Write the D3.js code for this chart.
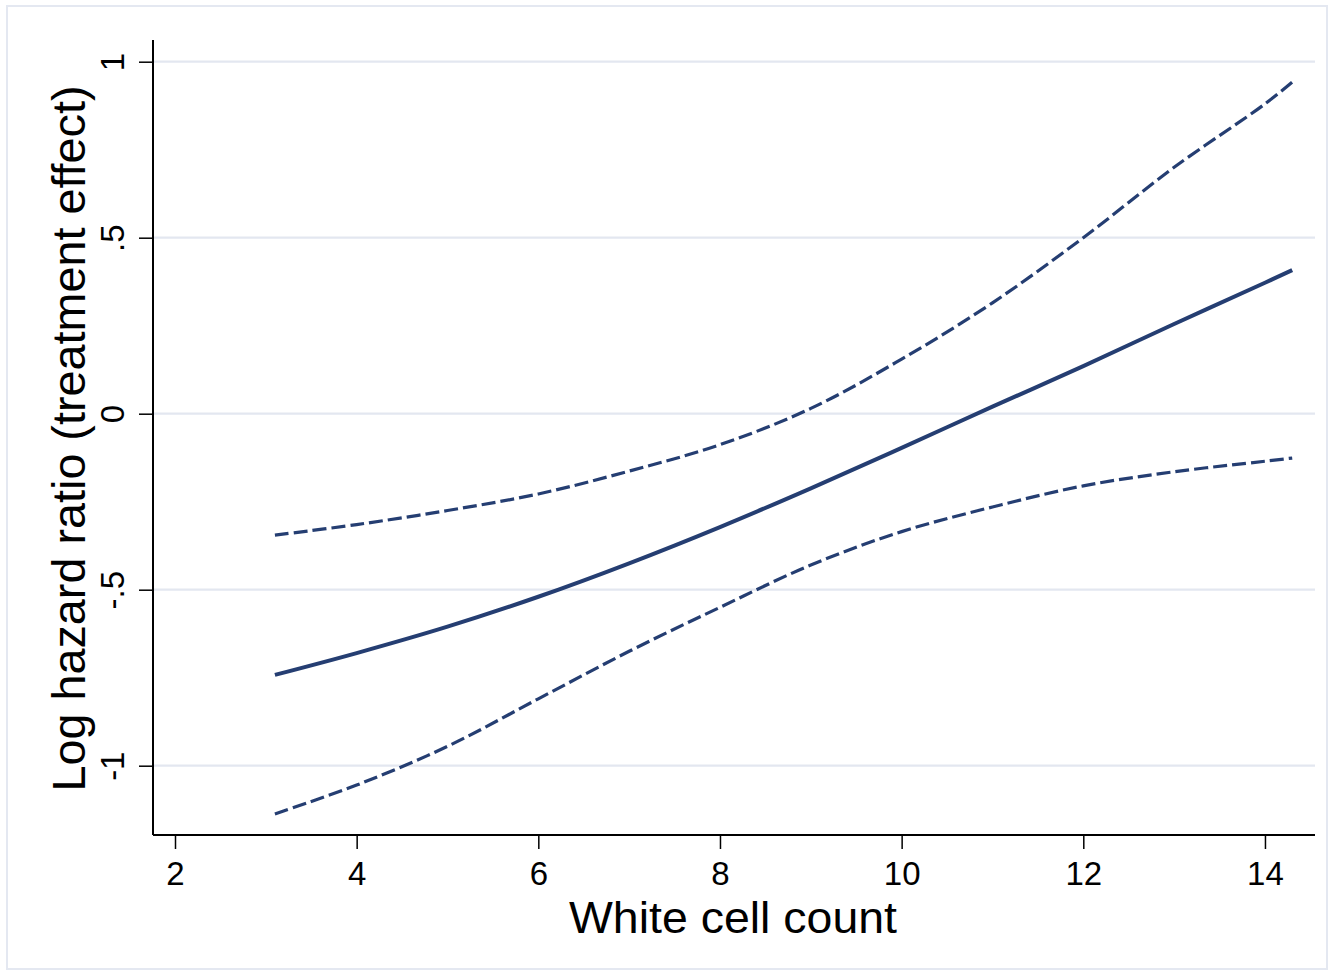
<!DOCTYPE html>
<html>
<head>
<meta charset="utf-8">
<script src="https://cdn.jsdelivr.net/npm/d3@7"></script>
<style>
  html, body { margin: 0; padding: 0; background: #fff; }
  svg { display: block; }
  text { font-family: "Liberation Sans", Arial, Helvetica, sans-serif; fill: #000; }
</style>
</head>
<body>
<svg id="chart" width="1334" height="976"></svg>
<script>
// ---- data ----
const xValues   = [3.1, 4, 5, 6, 7, 8, 9, 10, 11, 12, 13, 14, 14.3];
const estimate  = [-0.742, -0.68, -0.605, -0.52, -0.425, -0.322, -0.212, -0.097, 0.02, 0.135, 0.255, 0.372, 0.408];
const upperCI   = [-0.345, -0.315, -0.275, -0.228, -0.163, -0.088, 0.015, 0.155, 0.315, 0.50, 0.70, 0.88, 0.942];
const lowerCI   = [-1.137, -1.055, -0.945, -0.81, -0.675, -0.55, -0.43, -0.335, -0.265, -0.205, -0.165, -0.135, -0.126];
const xTicks    = [2, 4, 6, 8, 10, 12, 14];
const yTicks    = [-1, -0.5, 0, 0.5, 1];
const yTickLabels = ["-1", "-.5", "0", ".5", "1"];
const xTitle = "White cell count";
const yTitle = "Log hazard ratio (treatment effect)";

// ---- layout ----
const svg = d3.select("#chart");
const plot = { left: 153, right: 1315, top: 40, bottom: 835 };
const lineColor = "#253e72";

// outer frame
svg.append("rect")
  .attr("x", 7).attr("y", 6).attr("width", 1320).attr("height", 963)
  .attr("fill", "none").attr("stroke", "#e4e8f1").attr("stroke-width", 2);

const x = d3.scaleLinear()
  .domain([2 + (plot.left - 175) / 90.83, 2 + (plot.right - 175) / 90.83])
  .range([plot.left, plot.right]);
const y = d3.scaleLinear()
  .domain([(413.7 - plot.bottom) / 352, (413.7 - plot.top) / 352])
  .range([plot.bottom, plot.top]);

// gridlines
svg.append("g")
  .selectAll("line")
  .data(yTicks)
  .join("line")
  .attr("x1", plot.left).attr("x2", plot.right)
  .attr("y1", d => y(d)).attr("y2", d => y(d))
  .attr("stroke", "#e3e7f0").attr("stroke-width", 2.2);

// axes
const xAxis = svg.append("g")
  .attr("transform", `translate(0,${plot.bottom})`)
  .call(d3.axisBottom(x).tickValues(xTicks).tickSize(14).tickPadding(6).tickFormat(d3.format("d")));
xAxis.select(".domain").attr("stroke", "#000").attr("stroke-width", 2).attr("d", `M${plot.left},0H${plot.right}`);
xAxis.selectAll(".tick line").attr("stroke", "#000").attr("stroke-width", 1.5);
xAxis.selectAll(".tick text")
  .attr("font-size", 33).attr("fill", "#000")
  .attr("dy", null).attr("y", 50);

const yAxis = svg.append("g")
  .attr("transform", `translate(${plot.left},0)`)
  .call(d3.axisLeft(y).tickValues(yTicks).tickSize(14).tickFormat((d, i) => yTickLabels[i]));
yAxis.select(".domain").attr("stroke", "#000").attr("stroke-width", 2).attr("d", `M0,${plot.top}V${plot.bottom}`);
yAxis.selectAll(".tick line").attr("stroke", "#000").attr("stroke-width", 1.5);
yAxis.selectAll(".tick text")
  .attr("font-size", 33).attr("fill", "#000")
  .attr("x", null).attr("dy", null)
  .attr("text-anchor", "middle")
  .attr("transform", "translate(-29,0) rotate(-90)");

// titles
svg.append("text")
  .attr("x", 733).attr("y", 933)
  .attr("text-anchor", "middle").attr("font-size", 45)
  .attr("textLength", 328).attr("lengthAdjust", "spacingAndGlyphs")
  .text(xTitle);
svg.append("text")
  .attr("transform", `translate(85,438.5) rotate(-90)`)
  .attr("text-anchor", "middle").attr("font-size", 46)
  .attr("textLength", 706).attr("lengthAdjust", "spacingAndGlyphs")
  .text(yTitle);

// lines
const line = d3.line()
  .x(d => x(d[0])).y(d => y(d[1]))
  .curve(d3.curveCatmullRom.alpha(0.5));

const series = [
  { values: upperCI, width: 3.2, dash: "14,5" },
  { values: lowerCI, width: 3.2, dash: "14,5" },
  { values: estimate, width: 4, dash: null }
];
svg.append("g").selectAll("path")
  .data(series)
  .join("path")
  .attr("d", s => line(xValues.map((xv, i) => [xv, s.values[i]])))
  .attr("fill", "none")
  .attr("stroke", lineColor)
  .attr("stroke-width", s => s.width)
  .attr("stroke-dasharray", s => s.dash);
</script>
</body>
</html>
